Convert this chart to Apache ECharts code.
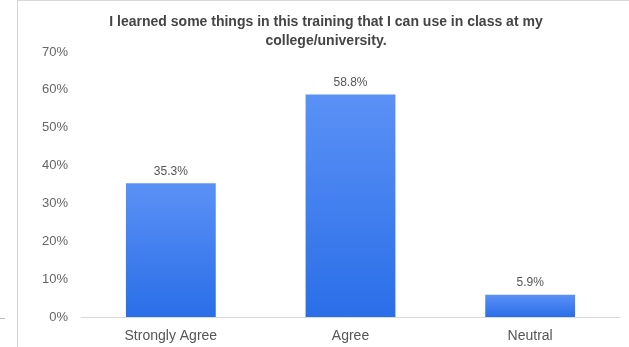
<!DOCTYPE html>
<html>
<head>
<meta charset="utf-8">
<style>
  html, body { margin: 0; padding: 0; background: #fff; }
  #chart { width: 629px; height: 347px; }
</style>
<script src="https://cdn.jsdelivr.net/npm/echarts@6/dist/echarts.min.js"></script>
</head>
<body>
<div id="chart"></div>
<script>
// Survey responses (percent of respondents)
const categories = ['Strongly Agree', 'Agree', 'Neutral'];
const percentages = [35.3, 58.8, 5.9];
const yTicks = [0, 10, 20, 30, 40, 50, 60, 70];
const titleText = 'I learned some things in this training that I can use in class at my\ncollege/university.';

const chart = echarts.init(document.getElementById('chart'), null, { renderer: 'canvas' });
const fontFamily = '"Liberation Sans", Arial, Helvetica, sans-serif';

chart.setOption({
  backgroundColor: '#ffffff',
  animation: false,
  title: {
    text: titleText,
    left: 321,
    top: 8,
    textAlign: 'center',
    textStyle: {
      fontFamily: fontFamily,
      fontSize: 14,
      fontWeight: 'bold',
      color: '#444',
      lineHeight: 19
    }
  },
  grid: { left: 81, right: 9, top: 52, bottom: 30, containLabel: false },
  xAxis: {
    type: 'category',
    data: categories,
    axisLine: { lineStyle: { color: '#d9d9d9', width: 1 } },
    axisTick: { show: false },
    axisLabel: { color: '#555', fontFamily: fontFamily, fontSize: 14, margin: 12 }
  },
  yAxis: {
    type: 'value',
    min: yTicks[0],
    max: yTicks[yTicks.length - 1],
    interval: 10,
    splitLine: { show: false },
    axisLine: { show: false },
    axisTick: { show: false },
    axisLabel: {
      color: '#666',
      fontFamily: fontFamily,
      fontSize: 13,
      margin: 13,
      formatter: v => v + '%'
    }
  },
  series: [{
    type: 'bar',
    data: percentages,
    barWidth: '50%',
    itemStyle: {
      color: new echarts.graphic.LinearGradient(0, 0, 0, 1, [
        { offset: 0, color: '#5b91f6' },
        { offset: 1, color: '#2a6ee8' }
      ])
    },
    label: {
      show: true,
      position: 'top',
      distance: 6,
      color: '#555',
      fontFamily: fontFamily,
      fontSize: 12,
      formatter: p => p.value.toFixed(1) + '%'
    }
  }],
  graphic: [
    // panel frame on the left and top
    { type: 'line', shape: { x1: 17.5, y1: 0, x2: 17.5, y2: 347 }, style: { stroke: '#d4d4d4', lineWidth: 1 } },
    { type: 'line', shape: { x1: 17, y1: 0.5, x2: 629, y2: 0.5 }, style: { stroke: '#d9d9d9', lineWidth: 1 } },
    { type: 'line', shape: { x1: 0, y1: 318.5, x2: 5, y2: 318.5 }, style: { stroke: '#bbb', lineWidth: 1 } }
  ]
});
</script>
</body>
</html>
